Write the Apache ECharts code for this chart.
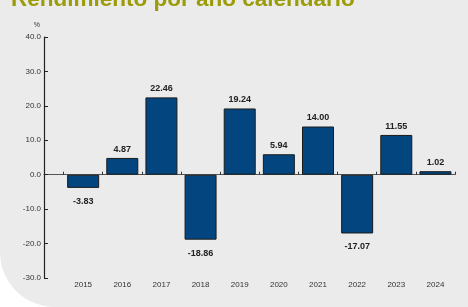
<!DOCTYPE html>
<html>
<head>
<meta charset="utf-8">
<script src="https://cdn.jsdelivr.net/npm/echarts@6/dist/echarts.min.js"></script>
<style>
  html, body { margin: 0; padding: 0; background: #ffffff; }
  #rendimiento { width: 468px; height: 307px; background: #ebebeb; border-bottom-left-radius: 55px; }
</style>
</head>
<body>
<div id="rendimiento"></div>
<script>
// datos
var years = ['2015', '2016', '2017', '2018', '2019', '2020', '2021', '2022', '2023', '2024'];
var returns = [-3.83, 4.87, 22.46, -18.86, 19.24, 5.94, 14.00, -17.07, 11.55, 1.02];
var yTicks = [-30, -20, -10, 0, 10, 20, 30, 40];

try {
    var chart = echarts.init(document.getElementById('rendimiento'));

    var idx = years.map(function (y, i) { return i; });
    var bounds = years.map(function (y, i) { return i - 0.5; }).concat([years.length - 0.5]);

    var barData = returns.map(function (v, i) {
        return {
            value: [i, v],
            label: v < 0 ? { position: 'bottom', distance: 9 } : { position: 'top', distance: 4 }
        };
    });

    chart.setOption({
        animation: false,
        title: {
            text: 'Rendimiento por año calendario',
            left: 6,
            top: -17,
            textStyle: { color: '#9c9c08', fontSize: 22.5, fontWeight: 'bold', fontFamily: 'Liberation Sans' }
        },
        grid: { left: 44, right: 13, top: 37, bottom: 29 },
        xAxis: [{
            type: 'value',
            min: -1,
            max: years.length - 0.5,
            position: 'bottom',
            axisLine: { onZero: true, lineStyle: { color: '#555555', width: 1 } },
            axisTick: { show: true, inside: true, length: 3, customValues: bounds, lineStyle: { color: '#333333' } },
            axisLabel: { show: false },
            splitLine: { show: false }
        }, {
            type: 'value',
            min: -1,
            max: years.length - 0.5,
            position: 'bottom',
            axisLine: { show: false, onZero: false },
            axisTick: { show: false },
            axisLabel: {
                customValues: idx,
                margin: 3,
                fontSize: 8,
                color: '#333333',
                fontFamily: 'Liberation Sans',
                formatter: function (v) { return years[Math.round(v)]; }
            },
            splitLine: { show: false }
        }],
        yAxis: {
            type: 'value',
            name: '%',
            nameGap: 8,
            nameTextStyle: { fontSize: 7, color: '#333333', fontFamily: 'Liberation Sans', align: 'right', padding: [0, 4, 0, 0] },
            min: yTicks[0],
            max: yTicks[yTicks.length - 1],
            interval: 10,
            axisLine: { show: true, onZero: false, lineStyle: { color: '#222222', width: 1.2 } },
            axisTick: { show: true, inside: true, length: 4, lineStyle: { color: '#222222' } },
            axisLabel: {
                margin: 3,
                fontSize: 8,
                color: '#333333',
                fontFamily: 'Liberation Sans',
                formatter: function (v) { return v.toFixed(1); }
            },
            splitLine: { show: false }
        },
        series: [{
            type: 'bar',
            xAxisIndex: 0,
            barWidth: 32,
            data: barData,
            itemStyle: { color: '#03467f', borderColor: '#1a1a1a', borderWidth: 1 },
            label: {
                show: true,
                fontSize: 9,
                fontWeight: 'bold',
                color: '#222222',
                fontFamily: 'Liberation Sans',
                formatter: function (p) { return p.value[1].toFixed(2); }
            }
        }]
    });
} catch (e) {
    console.log(e);
}
</script>
</body>
</html>
